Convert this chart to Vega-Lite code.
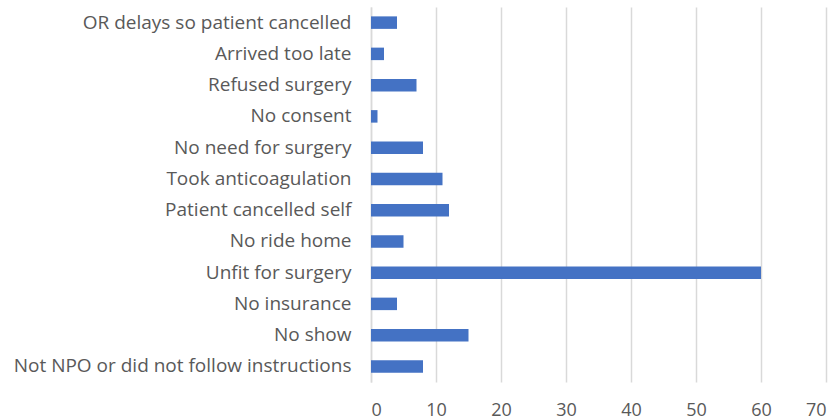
{
  "$schema": "https://vega.github.io/schema/vega-lite/v6.json",
  "autosize": "none",
  "padding": {"left": 371, "top": 7, "right": 7, "bottom": 37},
  "width": 455,
  "height": 375,
  "background": "white",
  "data": {"values": [
    {"reason": "OR delays so patient cancelled", "count": 4},
    {"reason": "Arrived too late", "count": 2},
    {"reason": "Refused surgery", "count": 7},
    {"reason": "No consent", "count": 1},
    {"reason": "No need for surgery", "count": 8},
    {"reason": "Took anticoagulation", "count": 11},
    {"reason": "Patient cancelled self", "count": 12},
    {"reason": "No ride home", "count": 5},
    {"reason": "Unfit for surgery", "count": 60},
    {"reason": "No insurance", "count": 4},
    {"reason": "No show", "count": 15},
    {"reason": "Not NPO or did not follow instructions", "count": 8}
  ]},
  "config": {"view": {"stroke": null}, "font": "Open Sans"},
  "mark": {"type": "bar", "color": "#4472C4"},
  "encoding": {
    "y": {
      "field": "reason", "type": "nominal", "sort": null,
      "scale": {"paddingInner": 0.6, "paddingOuter": 0.3},
      "axis": {"title": null, "ticks": false, "domain": true, "domainColor": "#d9d9d9", "domainWidth": 1.5,
               "labelFontSize": 19, "labelColor": "#595959", "labelPadding": 20, "labelLimit": 400}
    },
    "x": {
      "field": "count", "type": "quantitative",
      "scale": {"domain": [0, 70], "nice": false},
      "axis": {"title": null, "values": [0,10,20,30,40,50,60,70], "ticks": false, "domain": false,
               "grid": true, "gridColor": "#d9d9d9", "gridWidth": 1.5,
               "labelFontSize": 18, "labelColor": "#595959", "labelPadding": 28, "labelBaseline": "middle"}
    }
  }
}
